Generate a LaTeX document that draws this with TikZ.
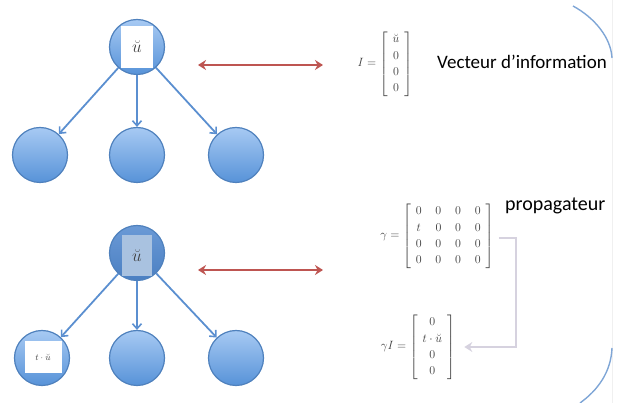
\documentclass[tikz,border=0pt]{standalone}
\usepackage{amsmath}
\usepackage{fontspec}
\newfontfamily\carlito{Carlito}
\usetikzlibrary{arrows.meta}
\definecolor{bord}{HTML}{4F81BD}
\definecolor{ctop}{HTML}{A7CAF3}
\definecolor{cbot}{HTML}{5792D8}
\definecolor{dtop}{HTML}{6B9AD6}
\definecolor{dbot}{HTML}{4A7FC2}
\definecolor{sq}{HTML}{A9C2E0}
\definecolor{edgeblue}{HTML}{5B8FD0}
\definecolor{redarr}{HTML}{BE5551}
\definecolor{conn}{HTML}{D6D2DF}
\definecolor{arcblue}{HTML}{7FA6D6}
\definecolor{matgray}{HTML}{3C3C3C}
\newcommand{\padm}{\hspace{5pt}}
\begin{document}
\begin{tikzpicture}[x=1pt,y=-1pt,
  bubble/.style={circle, minimum size=55pt, inner sep=0pt, draw=bord, line width=1.2pt, top color=ctop, bottom color=cbot},
  darkbubble/.style={bubble, top color=dtop, bottom color=dbot},
  whitesq/.style={rectangle, fill=white, inner sep=0pt, text=black!75},
  treeedge/.style={draw=edgeblue, line width=1.8pt, -{Straight Barb[length=5pt,width=9pt,line width=1.6pt]}},
  biarrow/.style={draw=redarr, line width=2.4pt, {Stealth[length=8pt,width=10pt]}-{Stealth[length=8pt,width=10pt]}},
  grayconn/.style={draw=conn, line width=2.4pt, -{Stealth[length=8pt,width=10pt]}},
  mat/.style={inner sep=0pt, text=matgray, font=\fontsize{13}{15.5}\selectfont},
  label/.style={inner sep=0pt, font=\carlito\fontsize{19}{22}\selectfont, text=black},
  arcline/.style={draw=arcblue, line width=1.4pt}
]
\useasboundingbox (0,0) rectangle (627,403);
% faint frame line on the right
\draw[black!6, line width=0.6pt] (612,0) -- (612,403);
% top tree
\node[bubble] (r1) at (137,47) {};
\node[whitesq, minimum width=32pt, minimum height=42pt, font=\fontsize{19}{21}\selectfont] (s1) at (137,47) {$\breve{u}$};
\node[bubble] (c11) at (40,155) {};
\node[bubble] (c12) at (137,155) {};
\node[bubble] (c13) at (236,155) {};
\draw[treeedge] (r1) -- (c11);
\draw[treeedge] (r1) -- (c12);
\draw[treeedge] (r1) -- (c13);
% bottom tree
\node[darkbubble] (r2) at (137,253) {};
\node[whitesq, fill=sq, minimum width=30pt, minimum height=41pt, font=\fontsize{19}{21}\selectfont] (s2) at (137,256) {$\breve{u}$};
\node[bubble] (c21) at (42,358) {};
\node[bubble] (c22) at (137,358) {};
\node[bubble] (c23) at (236,358) {};
\node[whitesq, minimum width=37pt, minimum height=32pt, font=\fontsize{9.5}{11}\selectfont] (s3) at (43,357) {$t\cdot\breve{u}$};
\draw[treeedge] (r2) -- (c21);
\draw[treeedge] (r2) -- (c22);
\draw[treeedge] (r2) -- (c23);
% red double arrows
\coordinate (a1) at (198,65);
\coordinate (b1) at (323,65);
\coordinate (a2) at (198,270);
\coordinate (b2) at (323,270);
\draw[biarrow] (a1) -- (b1);
\draw[biarrow] (a2) -- (b2);
% matrices
\renewcommand{\arraystretch}{1.05}
\setlength{\arraycolsep}{6.9pt}
\node[mat] (mI) at (385,64) {$I=\left[\padm\begin{matrix}\breve{u}\\0\\0\\0\end{matrix}\padm\right]$};
\node[mat] (mG) at (437,236) {$\gamma=\left[\padm\begin{matrix}0&0&0&0\\t&0&0&0\\0&0&0&0\\0&0&0&0\end{matrix}\padm\right]$};
\node[mat] (mGI) at (418,347) {$\gamma I=\left[\padm\begin{matrix}0\\t\cdot\breve{u}\\0\\0\end{matrix}\padm\right]$};
% labels
\node[label, anchor=west] (l1) at (437,62) {Vecteur d’information};
\node[label, anchor=west, font=\carlito\fontsize{20}{23}\selectfont] (l2) at (505,206) {propagateur};
% gray connector
\draw[grayconn] ([xshift=5pt,yshift=-2pt]mG.east) -| ([xshift=22pt]mG.east |- mGI.east) -- ([xshift=9pt]mGI.east);
% right arcs
\draw[arcline] (573,6) .. controls (595,18) and (611,38) .. (612,58);
\draw[arcline] (612,348) .. controls (611,372) and (598,390) .. (580,403);
\end{tikzpicture}
\end{document}
